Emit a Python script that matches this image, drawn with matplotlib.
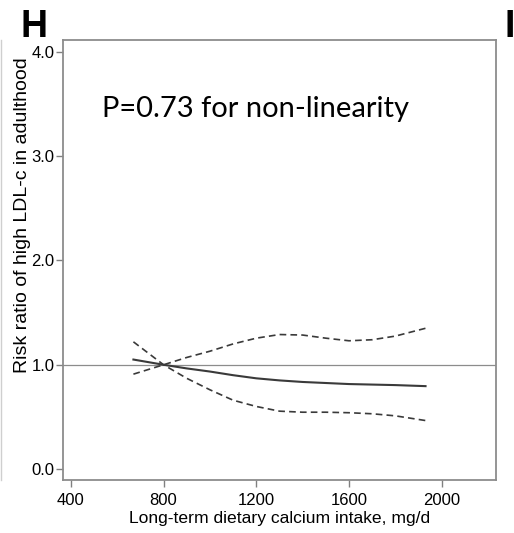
import matplotlib.pyplot as plt

# restricted cubic spline estimates
calcium = [670, 800, 900, 1000, 1100, 1200, 1300, 1400, 1500, 1600, 1700, 1800, 1930]
rr = [1.05, 1.0, 0.965, 0.935, 0.90, 0.87, 0.85, 0.835, 0.825, 0.815, 0.81, 0.805, 0.795]
upper = [0.91, 1.0, 1.07, 1.13, 1.20, 1.255, 1.29, 1.285, 1.255, 1.23, 1.24, 1.275, 1.35]
lower = [1.22, 1.0, 0.87, 0.76, 0.66, 0.60, 0.555, 0.545, 0.545, 0.54, 0.53, 0.51, 0.465]

xticks = [400, 800, 1200, 1600, 2000]
yticks = [0.0, 1.0, 2.0, 3.0, 4.0]

plt.rcParams['font.family'] = ['Liberation Sans', 'DejaVu Sans']

fig = plt.figure(figsize=(5.14, 5.33), dpi=100)
ax = fig.add_axes([0.122, 0.0985, 0.843, 0.8265])

ax.axhline(1.0, color='#8c8c8c', lw=0.9, zorder=1)
ax.plot(calcium, rr, color='#3a3a3a', lw=1.5, zorder=3)
ax.plot(calcium, upper, color='#3a3a3a', lw=1.2, ls=(0, (4, 2.5)), zorder=2)
ax.plot(calcium, lower, color='#3a3a3a', lw=1.2, ls=(0, (4, 2.5)), zorder=2)

ax.set_xlim(365, 2234)
ax.set_ylim(-0.11, 4.115)
ax.set_xticks(xticks)
ax.set_yticks(yticks)
ax.set_yticklabels([f'{v:.1f}' for v in yticks])
ax.tick_params(direction='out', length=5, width=1, color='#808080', labelsize=12)
ax.tick_params(axis='x', pad=4)
ax.tick_params(axis='y', pad=1)
for s in ax.spines.values():
    s.set_color('#8c8c8c')
    s.set_linewidth(1.3)

ax.set_xlabel('Long-term dietary calcium intake, mg/d', fontsize=12.6, labelpad=2)
fig.text(0.043, 0.597, 'Risk ratio of high LDL-c in adulthood', rotation=90,
         fontsize=14, ha='center', va='center')

ax.text(0.09, 0.825, 'P=0.73 for non-linearity', transform=ax.transAxes,
        fontsize=21, family=['Lato', 'DejaVu Sans'], ha='left', va='baseline')

# panel letters
fig.text(0.040, 0.9306, 'H', fontsize=27, fontweight='bold', ha='left', va='baseline')
fig.text(0.982, 0.9306, 'I', fontsize=27, fontweight='bold', ha='left', va='baseline')
fig.add_artist(plt.Line2D([0.002, 0.002], [0.1, 0.925], color='#cfcfcf', lw=1))

fig.savefig('out.png', dpi=100)
